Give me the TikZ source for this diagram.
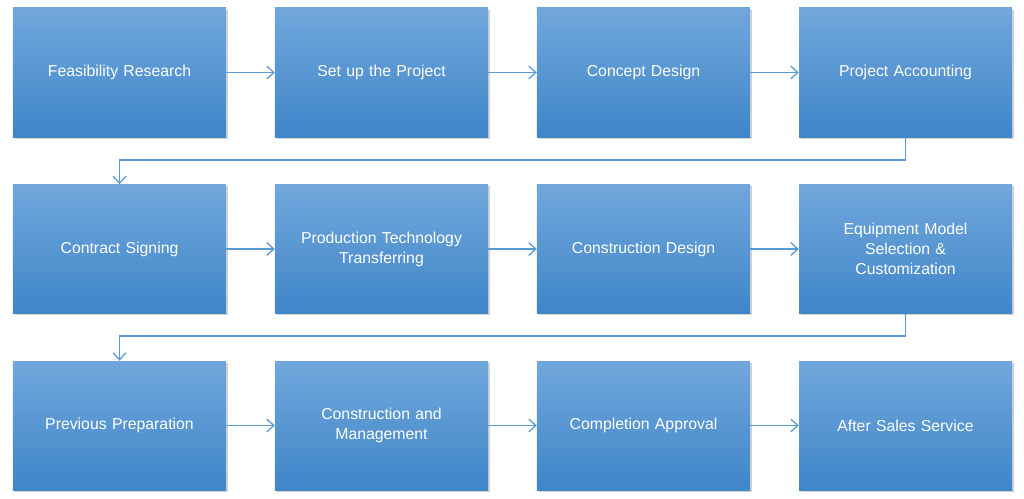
\documentclass[tikz,border=0pt]{standalone}
\usepackage{fontspec}
\setmainfont{Liberation Sans}
\usetikzlibrary{shadows,arrows.meta}
\definecolor{boxtop}{HTML}{71A7DC}
\definecolor{boxbot}{HTML}{3F86C8}
\definecolor{linkblue}{HTML}{5B9BD5}
\tikzset{
  stepbox/.style={rectangle, top color=boxtop, bottom color=boxbot, draw=none,
    minimum width=6.39cm, minimum height=3.87cm, text width=5.6cm, align=center,
    text=white, font=\fontsize{13.5}{17}\selectfont,
    drop shadow={shadow xshift=0.05cm, shadow yshift=-0.05cm, opacity=0.35}},
  link/.style={draw=linkblue, line width=1.1pt, -{Straight Barb[length=6pt,width=11pt]}}
}
\begin{document}
\begin{tikzpicture}[x=0.03cm, y=-0.03cm]
    \useasboundingbox (0,0) rectangle (1024,499);
    % Boxes
    \foreach \name/\px/\py/\txt in {
        a/119.5/72.5/Feasibility Research,
        b/381.5/72.5/Set up the Project,
        c/643.5/72.5/Concept Design,
        d/905.5/72.5/Project Accounting,
        e/119.5/249/Contract Signing,
        f/381.5/249/{Production Technology\\Transferring},
        g/643.5/249/Construction Design,
        h/905.5/249/{Equipment Model\\Selection \&\\Customization},
        i/119.5/425.5/Previous Preparation,
        j/381.5/425.5/{Construction and\\Management},
        k/643.5/425.5/Completion Approval,
        l/905.5/425.5/After Sales Service} {
        \node[stepbox] (\name) at (\px,\py) {\txt};
    }
    % Arrows within rows
    \foreach \from/\to in {a/b, b/c, c/d, e/f, f/g, g/h, i/j, j/k, k/l} {
        \draw[link] (\from) -- (\to);
    }
    % Arrows between rows
    \draw[link] (d.south) |- (119.5,160) -- (e.north);
    \draw[link] (h.south) |- (119.5,336) -- (i.north);
\end{tikzpicture}
\end{document}
